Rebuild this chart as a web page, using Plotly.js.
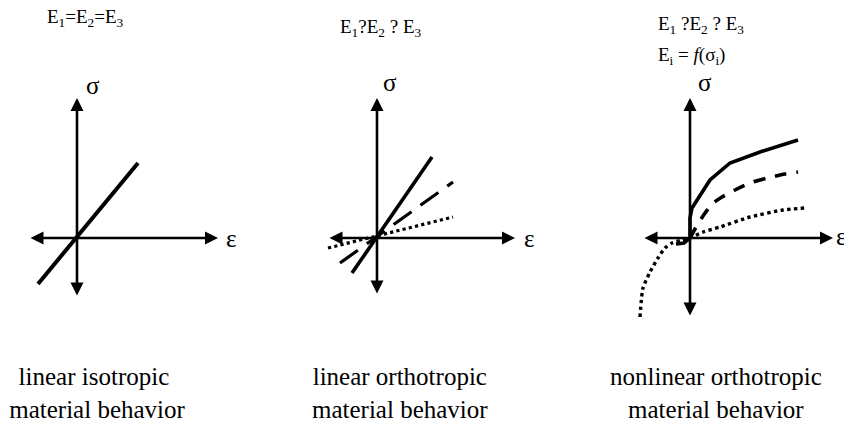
<!DOCTYPE html>
<html>
<head>
<meta charset="utf-8">
<script src="https://cdn.plot.ly/plotly-3.0.1.min.js"></script>
<style>html,body{margin:0;padding:0;background:#fff;}#chart{width:844px;height:422px;}</style>
</head>
<body>
<div id="chart"></div>
<script>
// ---- data (strain ε, stress σ) ----
const isoStrain = [-39, 61];
const isoStress = [-46, 75];

const orthoSolidStrain = [-25, 55];
const orthoSolidStress = [-35, 81];
const orthoDashStrain = [-37, 76];
const orthoDashStress = [-25, 56];
const orthoDotStrain = [-49, 76];
const orthoDotStress = [-10, 21];

const nlSolidStrain = [-14, -6, 0, 0, 2, 10, 20, 40, 70, 108];
const nlSolidStress = [-6, -5, 0, 20, 30, 43, 58, 75, 86, 98];
const nlDashStrain = [0, 5, 13, 22, 32, 45, 60, 77, 95, 108];
const nlDashStress = [0, 9, 22, 34, 41, 48, 55, 60, 64, 66];
const nlDotStrain = [-50, -47, -40, -32, -25, -18, -8, 0, 13, 30, 60, 93, 115];
const nlDotStress = [-79, -50, -34, -20, -10, -5, -2, 0, 6, 11, 21, 28, 30];

const topTexts = ['E<sub>1</sub>=E<sub>2</sub>=E<sub>3</sub>',
                  'E<sub>1</sub>?E<sub>2</sub> ? E<sub>3</sub>',
                  'E<sub>1</sub> ?E<sub>2</sub> ? E<sub>3</sub>'];
const funcText = 'E<sub>i</sub> = <i>f</i>(σ<sub>i</sub>)';
const bottomTexts = ['linear isotropic<br> material behavior',
                     'linear orthotropic<br>material behavior',
                     'nonlinear orthotropic<br>material behavior'];
const stressLabel = 'σ';
const strainLabel = 'ε';

// ---- layout helpers ----
const W = 844, H = 422;
const serif = "'Liberation Serif', 'Times New Roman', Times, serif";
const panels = [
  {x0: 0,   x1: 280, ox: 77,  arrows: {l: -48, r: 141, t: 140, b: -59}, sig: [93, 85],  eps: [230, 238]},
  {x0: 280, x1: 560, ox: 377, arrows: {l: -49, r: 138, t: 140, b: -57}, sig: [390, 83], eps: [528, 238]},
  {x0: 560, x1: 844, ox: 690, arrows: {l: -47, r: 143, t: 140, b: -79}, sig: [705, 83], eps: [840, 236]}
];
const oy = 238;

const layout = {
  width: W, height: H,
  margin: {l: 0, r: 0, t: 0, b: 0},
  paper_bgcolor: '#fff', plot_bgcolor: 'rgba(0,0,0,0)',
  showlegend: false,
  font: {family: serif, color: '#000'},
  annotations: [], shapes: []
};
panels.forEach((p, i) => {
  const n = i === 0 ? '' : String(i + 1);
  layout['xaxis' + n] = {
    domain: [p.x0 / W, p.x1 / W],
    range: [p.x0 - p.ox, p.x1 - p.ox],
    visible: false, fixedrange: true, anchor: 'y' + n
  };
  layout['yaxis' + n] = {
    domain: [0, 1], range: [oy - H, oy], visible: false, fixedrange: true,
    anchor: 'x' + n
  };
  const a = p.arrows;
  layout.annotations.push({
    xref: 'x' + n, yref: 'y' + n, axref: 'x' + n, ayref: 'y' + n,
    x: a.r, y: 0, ax: a.l, ay: 0, text: '', showarrow: true,
    arrowhead: 2, startarrowhead: 2, arrowside: 'end+start',
    arrowsize: 1, startarrowsize: 1, arrowwidth: 2.6, arrowcolor: '#000'
  });
  layout.annotations.push({
    xref: 'x' + n, yref: 'y' + n, axref: 'x' + n, ayref: 'y' + n,
    x: 0, y: a.t, ax: 0, ay: a.b, text: '', showarrow: true,
    arrowhead: 2, startarrowhead: 2, arrowside: 'end+start',
    arrowsize: 1, startarrowsize: 1, arrowwidth: 2.6, arrowcolor: '#000'
  });
  layout.annotations.push({
    xref: 'paper', yref: 'paper', x: p.sig[0] / W, y: 1 - p.sig[1] / H,
    xanchor: 'center', yanchor: 'middle', text: stressLabel, showarrow: false,
    font: {family: serif, size: 25, color: '#000'}
  });
  layout.annotations.push({
    xref: 'paper', yref: 'paper', x: (p.eps[0] - 6) / W, y: 1 - p.eps[1] / H,
    xanchor: 'left', yanchor: 'middle', text: strainLabel, showarrow: false,
    font: {family: serif, size: 25, color: '#000'}
  });
});

const tfont = {family: serif, size: 19, color: '#000'};
layout.annotations.push(
  {xref: 'paper', yref: 'paper', x: 85 / W, y: 1 - 18 / H, xanchor: 'center', yanchor: 'middle',
   text: topTexts[0], showarrow: false, font: tfont},
  {xref: 'paper', yref: 'paper', x: 381 / W, y: 1 - 28 / H, xanchor: 'center', yanchor: 'middle',
   text: topTexts[1], showarrow: false, font: tfont},
  {xref: 'paper', yref: 'paper', x: 656 / W, y: 1 - 25 / H, xanchor: 'left', yanchor: 'middle',
   text: topTexts[2], showarrow: false, font: tfont},
  {xref: 'paper', yref: 'paper', x: 656 / W, y: 1 - 56 / H, xanchor: 'left', yanchor: 'middle',
   text: funcText, showarrow: false, font: tfont}
);
const bfont = {family: serif, size: 25, color: '#000'};
[94, 400, 716].forEach((cx, i) => {
  layout.annotations.push({
    xref: 'paper', yref: 'paper', x: cx / W, y: 1 - 393 / H, xanchor: 'center', yanchor: 'middle',
    text: bottomTexts[i], showarrow: false, font: bfont, align: 'center'
  });
});

function line(xs, ys, n, width, dash, shape) {
  return {x: xs, y: ys, xaxis: 'x' + n, yaxis: 'y' + n, type: 'scatter', mode: 'lines',
          line: {color: '#000', width: width, dash: dash, shape: shape || 'spline', smoothing: 0.6},
          hoverinfo: 'skip'};
}
const traces = [
  line(isoStrain, isoStress, '', 4, 'solid'),
  line(orthoSolidStrain, orthoSolidStress, '2', 3.6, 'solid'),
  line(orthoDashStrain, orthoDashStress, '2', 3.2, '22px,11px'),
  line(orthoDotStrain, orthoDotStress, '2', 3.2, 'dot'),
  line(nlSolidStrain, nlSolidStress, '3', 3.6, 'solid', 'linear'),
  line(nlDashStrain, nlDashStress, '3', 3.6, '12px,10px'),
  line(nlDotStrain, nlDotStress, '3', 3.4, 'dot')
];

Plotly.newPlot('chart', traces, layout, {staticPlot: true, displayModeBar: false});
</script>
</body>
</html>
